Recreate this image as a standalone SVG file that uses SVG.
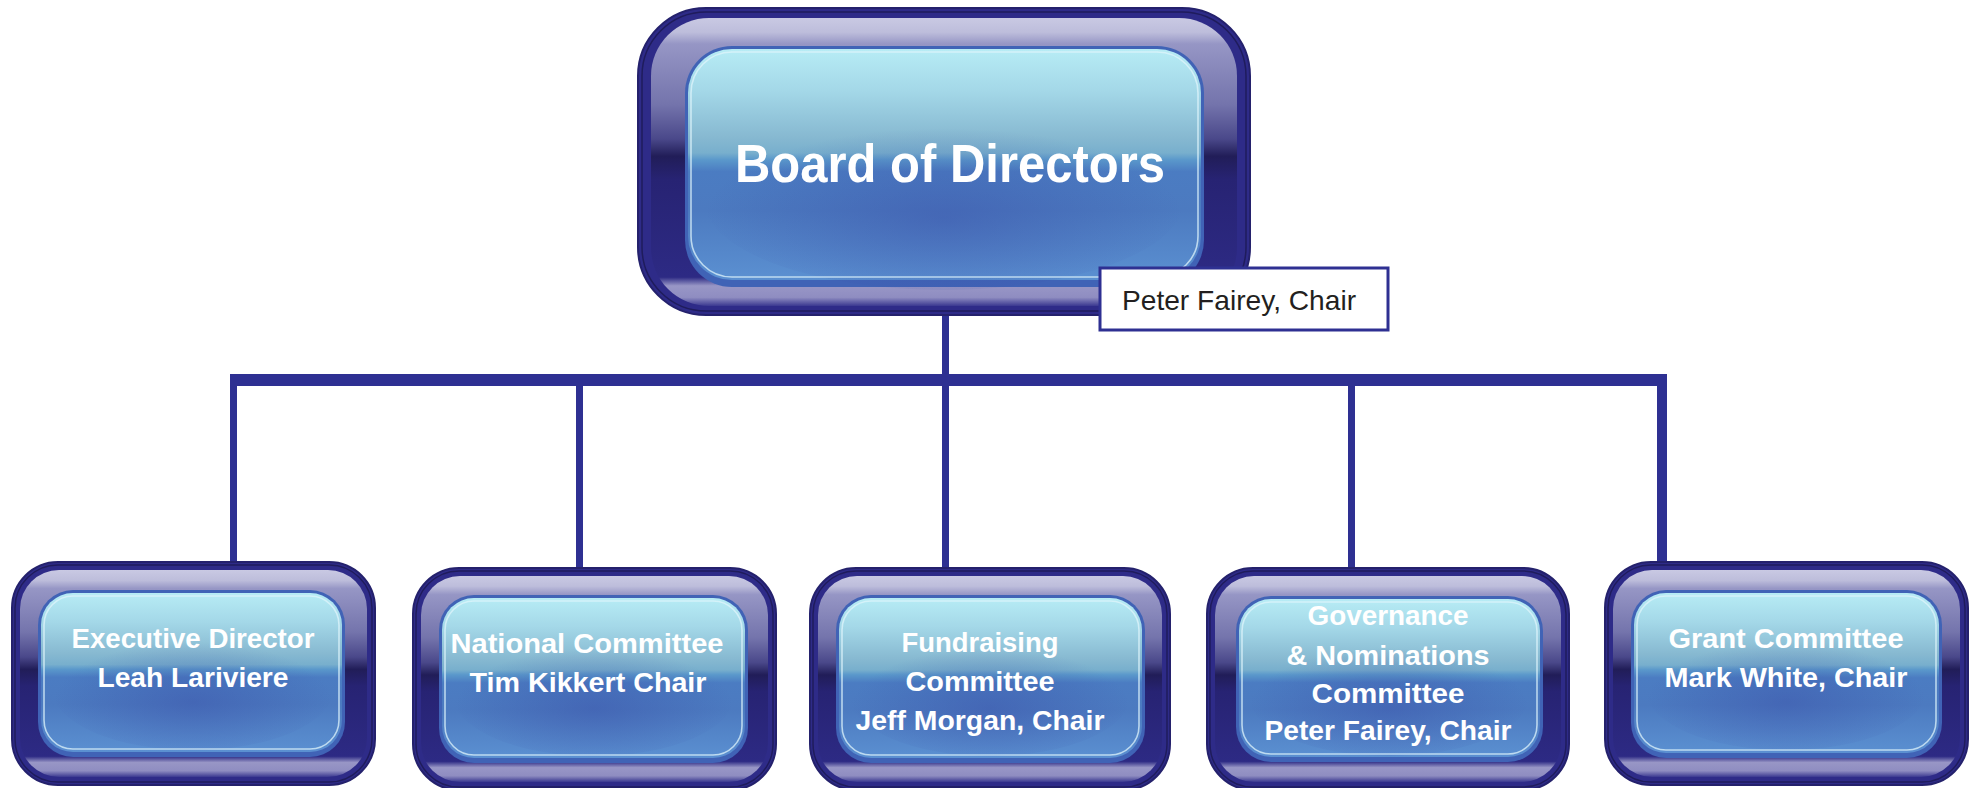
<svg xmlns="http://www.w3.org/2000/svg" width="1979" height="788" viewBox="0 0 1979 788">
<style>
.outer{fill:#2e2b88;stroke:#24216c;stroke-width:2}
.band{fill:url(#frame)}
.edge{fill:none;stroke:#1f1c5c;stroke-width:1.5}
.pborder{fill:#4063b6}
.panel{fill:url(#panel)}
.shade{fill:url(#shade)}
.hl{fill:none;stroke:#dff4fb;stroke-opacity:0.75;stroke-width:1.6}
.t{font-family:"Liberation Sans",Arial,sans-serif;font-weight:bold;font-size:28px;fill:#ffffff;text-anchor:middle}
.conn{fill:#2e3092}
</style>
<defs>
<linearGradient id="frame" x1="0" y1="0" x2="0" y2="1">
<stop offset="0" stop-color="#c9c9e3"/>
<stop offset="0.05" stop-color="#bdbddb"/>
<stop offset="0.09" stop-color="#9696c5"/>
<stop offset="0.3" stop-color="#7474ac"/>
<stop offset="0.42" stop-color="#4a488a"/>
<stop offset="0.48" stop-color="#211d58"/>
<stop offset="0.56" stop-color="#272373"/>
<stop offset="0.9" stop-color="#2d2a84"/>
<stop offset="0.93" stop-color="#9896c6"/>
<stop offset="0.97" stop-color="#8f8dc1"/>
<stop offset="1" stop-color="#3a3890"/>
</linearGradient>
<linearGradient id="panel" x1="0" y1="0" x2="0" y2="1">
<stop offset="0" stop-color="#b7ecf5"/>
<stop offset="0.18" stop-color="#a4d8e8"/>
<stop offset="0.38" stop-color="#87b9d1"/>
<stop offset="0.45" stop-color="#78afcd"/>
<stop offset="0.48" stop-color="#5a98cb"/>
<stop offset="0.53" stop-color="#4b7cc2"/>
<stop offset="0.7" stop-color="#4c7ac0"/>
<stop offset="1" stop-color="#5b90d1"/>
</linearGradient>
<radialGradient id="shade" cx="0.5" cy="0.6" r="0.5">
<stop offset="0" stop-color="#3a4fa8" stop-opacity="0.45"/>
<stop offset="1" stop-color="#3a4fa8" stop-opacity="0"/>
</radialGradient>
</defs>

<g id="connectors">
<rect class="conn" x="942" y="312" width="7" height="68"/>
<rect class="conn" x="230" y="374" width="1437" height="12"/>
<rect class="conn" x="230" y="380" width="7" height="184"/>
<rect class="conn" x="576" y="380" width="7" height="190"/>
<rect class="conn" x="942" y="380" width="7" height="190"/>
<rect class="conn" x="1348" y="380" width="7" height="190"/>
<rect class="conn" x="1657" y="380" width="10" height="184"/>
</g>

<g id="board">
<rect class="outer" x="638" y="8" width="612" height="307" rx="68"/>
<rect class="edge" x="642" y="12" width="604" height="299" rx="64"/>
<rect class="band" x="651" y="18" width="586" height="288" rx="58"/>
<rect class="pborder" x="685" y="46" width="519" height="241" rx="47"/>
<rect class="panel" x="688" y="49" width="513" height="231" rx="44"/>
<ellipse class="shade" cx="944" cy="200" rx="240" ry="90"/>
<rect class="hl" x="691" y="52" width="507" height="225" rx="41"/>
<text class="t" x="950" y="182" style="font-size:53px" textLength="430" lengthAdjust="spacingAndGlyphs">Board of Directors</text>
</g>

<g id="chair-label">
<rect x="1100" y="268" width="288" height="62" fill="#ffffff" stroke="#2e3092" stroke-width="3"/>
<text x="1122" y="310" font-family="'Liberation Sans',Arial,sans-serif" font-size="28" fill="#231f20" textLength="234" lengthAdjust="spacingAndGlyphs">Peter Fairey, Chair</text>
</g>

<g id="executive-director">
<rect class="outer" x="12" y="562" width="363" height="223" rx="46"/>
<rect class="edge" x="15" y="565" width="357" height="217" rx="43"/>
<rect class="band" x="20" y="570" width="347" height="207" rx="39"/>
<rect class="pborder" x="38" y="590" width="307" height="167" rx="35"/>
<rect class="panel" x="41" y="593" width="301" height="159" rx="32"/>
<ellipse class="shade" cx="193" cy="690" rx="140" ry="60"/>
<rect class="hl" x="44" y="596" width="295" height="153" rx="29"/>
<text class="t" x="193" y="648" textLength="243" lengthAdjust="spacingAndGlyphs">Executive Director</text>
<text class="t" x="193" y="687" textLength="191" lengthAdjust="spacingAndGlyphs">Leah Lariviere</text>
</g>

<g id="national-committee">
<rect class="outer" x="413" y="568" width="363" height="222" rx="46"/>
<rect class="edge" x="416" y="571" width="357" height="216" rx="43"/>
<rect class="band" x="421" y="576" width="347" height="206" rx="39"/>
<rect class="pborder" x="439" y="595" width="309" height="168" rx="35"/>
<rect class="panel" x="442" y="598" width="303" height="160" rx="32"/>
<ellipse class="shade" cx="594" cy="696" rx="140" ry="60"/>
<rect class="hl" x="445" y="601" width="297" height="154" rx="29"/>
<text class="t" x="587" y="653" textLength="273" lengthAdjust="spacingAndGlyphs">National Committee</text>
<text class="t" x="588" y="692" textLength="237" lengthAdjust="spacingAndGlyphs">Tim Kikkert Chair</text>
</g>

<g id="fundraising-committee">
<rect class="outer" x="810" y="568" width="360" height="222" rx="46"/>
<rect class="edge" x="813" y="571" width="354" height="216" rx="43"/>
<rect class="band" x="818" y="576" width="344" height="206" rx="39"/>
<rect class="pborder" x="836" y="595" width="309" height="168" rx="35"/>
<rect class="panel" x="839" y="598" width="303" height="160" rx="32"/>
<ellipse class="shade" cx="990" cy="696" rx="140" ry="60"/>
<rect class="hl" x="842" y="601" width="297" height="154" rx="29"/>
<text class="t" x="980" y="652" textLength="157" lengthAdjust="spacingAndGlyphs">Fundraising</text>
<text class="t" x="980" y="691" textLength="149" lengthAdjust="spacingAndGlyphs">Committee</text>
<text class="t" x="980" y="730" textLength="249" lengthAdjust="spacingAndGlyphs">Jeff Morgan, Chair</text>
</g>

<g id="governance-committee">
<rect class="outer" x="1207" y="568" width="362" height="222" rx="46"/>
<rect class="edge" x="1210" y="571" width="356" height="216" rx="43"/>
<rect class="band" x="1215" y="576" width="346" height="206" rx="39"/>
<rect class="pborder" x="1236" y="596" width="307" height="166" rx="35"/>
<rect class="panel" x="1239" y="599" width="301" height="158" rx="32"/>
<ellipse class="shade" cx="1389" cy="696" rx="140" ry="60"/>
<rect class="hl" x="1242" y="602" width="295" height="152" rx="29"/>
<text class="t" x="1388" y="625" textLength="161" lengthAdjust="spacingAndGlyphs">Governance</text>
<text class="t" x="1388" y="665" textLength="203" lengthAdjust="spacingAndGlyphs">&amp; Nominations</text>
<text class="t" x="1388" y="703" textLength="153" lengthAdjust="spacingAndGlyphs">Committee</text>
<text class="t" x="1388" y="740" textLength="247" lengthAdjust="spacingAndGlyphs">Peter Fairey, Chair</text>
</g>

<g id="grant-committee">
<rect class="outer" x="1605" y="562" width="363" height="223" rx="46"/>
<rect class="edge" x="1608" y="565" width="357" height="217" rx="43"/>
<rect class="band" x="1613" y="570" width="347" height="207" rx="39"/>
<rect class="pborder" x="1631" y="590" width="311" height="168" rx="35"/>
<rect class="panel" x="1634" y="593" width="305" height="160" rx="32"/>
<ellipse class="shade" cx="1786" cy="690" rx="140" ry="60"/>
<rect class="hl" x="1637" y="596" width="299" height="154" rx="29"/>
<text class="t" x="1786" y="648" textLength="235" lengthAdjust="spacingAndGlyphs">Grant Committee</text>
<text class="t" x="1786" y="687" textLength="243" lengthAdjust="spacingAndGlyphs">Mark White, Chair</text>
</g>
</svg>
